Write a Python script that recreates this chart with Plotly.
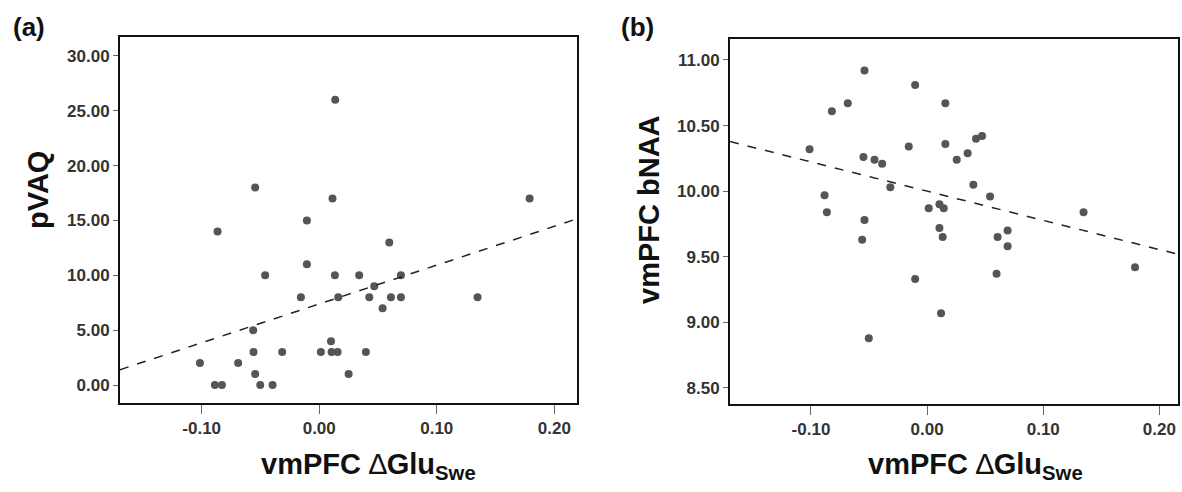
import numpy as np
import plotly.graph_objects as go

# panel (a): vmPFC dGlu vs pVAQ
glu_a = [-0.0865, -0.0545, 0.0136, 0.0113, -0.0105, 0.179, 0.0596, -0.046, -0.0156,
         -0.0562, -0.0559, -0.0315, -0.1015, -0.069, -0.0545, -0.0888, -0.0828, -0.0502,
         -0.0397, -0.0105, 0.0133, 0.034, 0.0695, 0.0468, 0.0162, 0.0426, 0.061, 0.0695,
         0.1347, 0.0539, 0.010, 0.0014, 0.0105, 0.0156, 0.0397, 0.025]
pvaq = [14, 18, 26, 17, 15, 17, 13, 10, 8,
        5, 3, 3, 2, 2, 1, 0, 0, 0,
        0, 11, 10, 10, 10, 9, 8, 8, 8, 8,
        8, 7, 4, 3, 3, 3, 3, 1]

# panel (b): vmPFC dGlu vs vmPFC bNAA
glu_b = [-0.0539, -0.082, -0.0683, -0.1012, -0.0548, -0.0453, -0.0387, -0.0883, -0.0863,
         -0.0539, -0.0559, -0.0317, -0.0502, -0.0103, 0.0157, -0.0158, 0.0157, 0.0421,
         0.0473, 0.0255, 0.0349, 0.0398, 0.0542, 0.0014, 0.0106, 0.0143, 0.1347, 0.0106,
         0.0134, 0.0693, 0.0607, 0.0693, -0.0103, 0.012, 0.0598, 0.179]
bnaa = [10.92, 10.61, 10.67, 10.32, 10.26, 10.24, 10.21, 9.97, 9.84,
        9.78, 9.63, 10.03, 8.88, 10.81, 10.67, 10.34, 10.36, 10.40,
        10.42, 10.24, 10.29, 10.05, 9.96, 9.87, 9.90, 9.87, 9.84, 9.72,
        9.65, 9.70, 9.65, 9.58, 9.33, 9.07, 9.37, 9.42]

xticks = [-0.1, 0, 0.1, 0.2]
yticks_a = [0, 5, 10, 15, 20, 25, 30]
yticks_b = [8.5, 9, 9.5, 10, 10.5, 11]

xrange_a = [-0.1695, 0.2193]
xrange_b = [-0.1697, 0.216]
yrange_a = [-1.64, 31.73]
yrange_b = [8.378, 11.16]

W, H = 1182, 492
FONT = "Liberation Sans, Arial, sans-serif"

fig = go.Figure()

def add_panel(x, y, xr, xa, ya):
    fig.add_trace(go.Scatter(x=x, y=y, mode="markers", xaxis=xa, yaxis=ya,
                             marker=dict(color="#555555", size=8), showlegend=False))
    k, b = np.polyfit(x, y, 1)
    xs = np.array(xr)
    fig.add_trace(go.Scatter(x=xs, y=k * xs + b, mode="lines", xaxis=xa, yaxis=ya,
                             line=dict(color="#222222", width=1.5, dash="dash"),
                             showlegend=False))

add_panel(glu_a, pvaq, xrange_a, "x", "y")
add_panel(glu_b, bnaa, xrange_b, "x2", "y2")

def px(v):
    return v / W

def py(v):
    return 1 - v / H

def labels(vals):
    # plain hyphen minus, like the original SPSS output
    return [f"{v:.2f}" for v in vals]

axis_common = dict(showgrid=False, zeroline=False, showline=True, linecolor="#111111",
                   linewidth=2, mirror=True, ticks="outside", tickcolor="#666666",
                   tickwidth=1, tickfont=dict(family=FONT, size=17, color="#333333",
                                              weight="bold"))

fig.update_layout(
    width=W, height=H,
    margin=dict(l=0, r=0, t=0, b=0),
    paper_bgcolor="white", plot_bgcolor="white",
    xaxis=dict(axis_common, domain=[px(120), px(577)], range=xrange_a, anchor="y",
               tickvals=xticks, ticktext=labels(xticks), ticklen=9),
    yaxis=dict(axis_common, domain=[py(403), py(37)], range=yrange_a, anchor="x",
               tickvals=yticks_a, ticktext=labels(yticks_a), ticklen=5),
    xaxis2=dict(axis_common, domain=[px(730), px(1178)], range=xrange_b, anchor="y2",
                tickvals=xticks, ticktext=labels(xticks), ticklen=9),
    yaxis2=dict(axis_common, domain=[py(404), py(39)], range=yrange_b, anchor="x2",
                tickvals=yticks_b, ticktext=labels(yticks_b), ticklen=5),
)

title_font = dict(family=FONT, size=29, color="#111111", weight="bold")
xtitle = "vmPFC <span style='font-weight:normal'>\u2206</span>Glu<sub>Swe</sub>"
annots = [
    dict(text="(a)", x=px(29), y=py(27), font=dict(family=FONT, size=26, color="#111111", weight="bold")),
    dict(text="(b)", x=px(637), y=py(27), font=dict(family=FONT, size=26, color="#111111", weight="bold")),
    dict(text=xtitle, x=px(368), y=py(466), font=title_font),
    dict(text=xtitle, x=px(975), y=py(466), font=title_font),
    dict(text="pVAQ", x=px(38), y=py(190), textangle=-90, font=title_font),
    dict(text="vmPFC bNAA", x=px(649), y=py(210), textangle=-90, font=title_font),
]
for a in annots:
    fig.add_annotation(xref="paper", yref="paper", showarrow=False,
                       xanchor="center", yanchor="middle", **a)

# drop the default body margin so the figure fills the window exactly
fig.write_html("out.html", config={"displayModeBar": False},
               post_script="document.body.style.margin='0';document.body.style.overflow='hidden';")
